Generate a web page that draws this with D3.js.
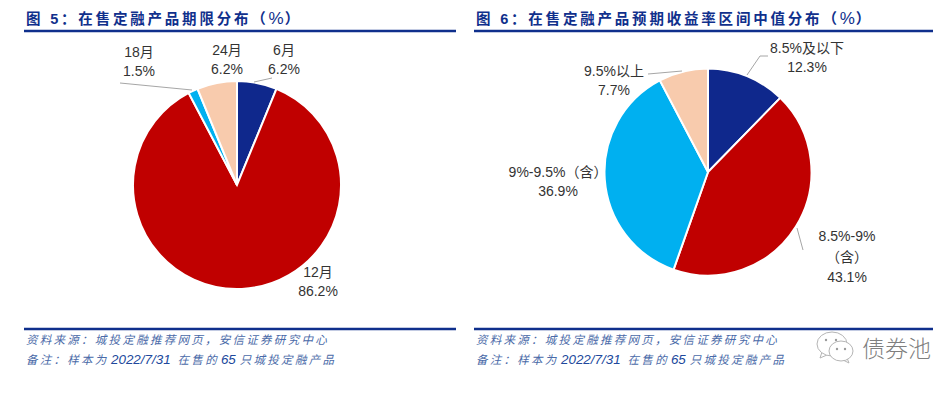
<!DOCTYPE html>
<html lang="zh-CN">

<head>
    <meta charset="UTF-8">
    <title>在售定融产品分布</title>
    <style>
        html, body { margin: 0; padding: 0; background: #fff; }
        text { font-family: "Liberation Sans", "Noto Sans CJK SC", sans-serif; }
        .label { font-size: 14px; fill: #333; text-anchor: middle; }
        .title { font-size: 14.5px; font-weight: 700; fill: #10308c; letter-spacing: 2.8px; }
        .title .pct { font-size: 17px; font-weight: 400; letter-spacing: 1px; }
        .note { font-size: 11.5px; font-style: italic; fill: #4a6aa8; letter-spacing: 2.27px; }
        .note .num { font-size: 13.4px; fill: #20489c; letter-spacing: 0; }
    </style>
</head>

<body>
    <svg id="chart"></svg>
    <script src="https://d3js.org/d3.v7.min.js"></script>
    <script>
        // 图5 数据
        const termCategories = ['6月', '12月', '18月', '24月'];
        const termValues = [6.2, 86.2, 1.5, 6.2];
        const termColors = ['#0f288c', '#c00000', '#00b0f0', '#f8cbad'];

        // 图6 数据
        const yieldCategories = ['8.5%及以下', '8.5%-9%', '9%-9.5%（含）', '9.5%以上'];
        const yieldValues = [12.3, 43.1, 36.9, 7.7];
        const yieldColors = ['#0f288c', '#c00000', '#00b0f0', '#f8cbad'];

        const width = 944,
            height = 394;

        const svg = d3.select('#chart')
            .attr('width', width)
            .attr('height', height)
            .style('display', 'block');

        // 标签位置 + 引导线
        const panels = [{
            x0: 24, x1: 456,
            title: '图 5：在售定融产品期限分布（',
            cx: 237, cy: 185, r: 104,
            categories: termCategories, values: termValues, colors: termColors,
            labels: [
                { x: 284, y: 55, lines: 2 },
                { x: 318, y: 277, lines: 2 },
                { x: 139, y: 57, lines: 2 },
                { x: 227, y: 55, lines: 2 }
            ],
            leaders: [
                [[254, 82], [272, 78]],
                [[192, 90], [120, 83]]
            ]
        }, {
            x0: 474, x1: 933,
            title: '图 6：在售定融产品预期收益率区间中值分布（',
            cx: 708, cy: 172, r: 103.5,
            categories: yieldCategories, values: yieldValues, colors: yieldColors,
            labels: [
                { x: 807, y: 53, lines: 2 },
                { x: 847, y: 241, lines: 3 },
                { x: 558, y: 177, lines: 2 },
                { x: 614, y: 76, lines: 2 }
            ],
            leaders: [
                [[747, 75], [760, 56], [768, 56]],
                [[682, 71], [648, 74]],
                [[797, 228], [803, 250]]
            ]
        }];

        const pie = d3.pie().sort(null).value(d => d);
        const line = d3.line();

        panels.forEach(p => {
            const g = svg.append('g');

            // 标题和上下横线
            const title = g.append('text')
                .attr('class', 'title')
                .attr('x', p.x0 + 2)
                .attr('y', 24);
            title.append('tspan').text(p.title);
            title.append('tspan').attr('class', 'pct').text('%');
            title.append('tspan').text('）');

            [31, 329].forEach(y => {
                g.append('line')
                    .attr('x1', p.x0).attr('x2', p.x1)
                    .attr('y1', y).attr('y2', y)
                    .attr('stroke', '#0f2f8c')
                    .attr('stroke-width', 2.4);
            });

            // 饼图
            const arc = d3.arc().innerRadius(0).outerRadius(p.r);
            g.append('g')
                .attr('transform', `translate(${p.cx},${p.cy})`)
                .selectAll('path')
                .data(pie(p.values))
                .join('path')
                .attr('d', arc)
                .attr('fill', (d, i) => p.colors[i])
                .attr('stroke', '#fff')
                .attr('stroke-width', 2);

            // 引导线
            p.leaders.forEach(pts => {
                g.append('path')
                    .attr('d', line(pts))
                    .attr('fill', 'none')
                    .attr('stroke', '#a6a6a6')
                    .attr('stroke-width', 1);
            });

            // 标签
            p.labels.forEach((l, i) => {
                const name = p.categories[i];
                const rows = l.lines === 3 ?
                    ['8.5%-9%', '（含）', p.values[i].toFixed(1) + '%'] :
                    [name, p.values[i].toFixed(1) + '%'];
                const t = g.append('text').attr('class', 'label');
                rows.forEach((r, j) => {
                    t.append('tspan')
                        .attr('x', l.x)
                        .attr('y', l.y + j * (l.lines === 3 ? 20.5 : 19))
                        .text(r);
                });
            });

            // 来源和备注
            g.append('text')
                .attr('class', 'note')
                .attr('x', p.x0 + 2)
                .attr('y', 344)
                .text('资料来源：城投定融推荐网页，安信证券研究中心');

            const note = g.append('text')
                .attr('class', 'note')
                .attr('x', p.x0 + 2)
                .attr('y', 364);
            note.append('tspan').text('备注：样本为');
            note.append('tspan').attr('class', 'num').attr('dx', 2.4).text('2022/7/31');
            note.append('tspan').attr('dx', 7).text('在售的');
            note.append('tspan').attr('class', 'num').attr('dx', 2).text('65');
            note.append('tspan').attr('dx', 4).text('只城投定融产品');
        });

        // 水印
        const mark = svg.append('g')
            .attr('fill', '#fff')
            .attr('stroke', '#b5b5b5')
            .attr('stroke-width', 1);
        mark.append('path').attr('d', 'M822 352 L820 358 L827 355');
        mark.append('ellipse').attr('cx', 832).attr('cy', 344).attr('rx', 15).attr('ry', 12);
        mark.append('path').attr('d', 'M847 358 L849 363 L843 360');
        mark.append('ellipse').attr('cx', 841).attr('cy', 351).attr('rx', 12).attr('ry', 10);
        [[826, 340], [836, 340], [837, 349], [845, 349]].forEach(d => {
            svg.append('circle')
                .attr('cx', d[0]).attr('cy', d[1]).attr('r', 1.2)
                .attr('fill', '#9a9a9a');
        });
        svg.append('text')
            .attr('x', 862)
            .attr('y', 357)
            .attr('font-size', 23)
            .attr('fill', '#7f7f7f')
            .style('font-family', '"Noto Sans CJK SC"')
            .style('font-weight', 300)
            .text('债券池');
    </script>
</body>

</html>
